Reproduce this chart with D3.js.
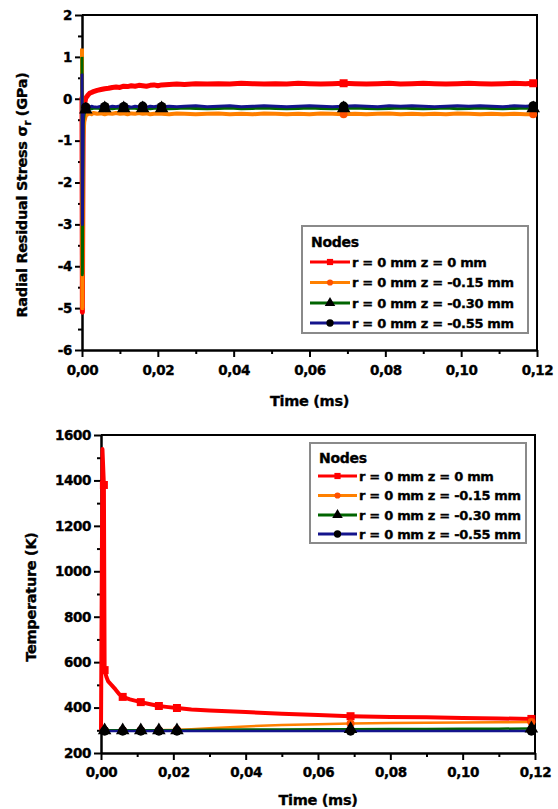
<!DOCTYPE html>
<html><head><meta charset="utf-8">
<script src="https://cdn.jsdelivr.net/npm/d3@7"></script>
<style>
body{margin:0;background:#fff}
svg{display:block}
text{font-family:"DejaVu Sans",sans-serif;font-weight:bold;fill:#000;stroke:#000;stroke-width:0.35px}
</style>
</head><body>
<svg id="c" width="558" height="809"></svg>
<script>
// ---------- shared ----------
const seriesNames = ["r = 0 mm z = 0 mm", "r = 0 mm z = -0.15 mm", "r = 0 mm z = -0.30 mm", "r = 0 mm z = -0.55 mm"];
const seriesColors = ["#ff0000", "#ff8000", "#006400", "#14148c"];
const markerFills = ["#ff0000", "#ff5000", "#000000", "#000000"];
const legendTitle = "Nodes";
const xTickValues = [0, 0.02, 0.04, 0.06, 0.08, 0.10, 0.12];
const xMinorTicks = [0.01, 0.03, 0.05, 0.07, 0.09, 0.11];

// ---------- top chart: radial residual stress (GPa) ----------
const timesTop = [0, 0.0001, 0.0003, 0.0006, 0.001, 0.0015, 0.002, 0.0025, 0.003, 0.004,
  0.005, 0.006, 0.007, 0.008, 0.009, 0.010, 0.011, 0.012, 0.013, 0.014,
  0.015, 0.016, 0.017, 0.018, 0.019, 0.020, 0.021, 0.023, 0.025, 0.027,
  0.030, 0.033, 0.036, 0.039, 0.042, 0.045, 0.048, 0.051, 0.054, 0.057,
  0.060, 0.063, 0.066, 0.069, 0.072, 0.075, 0.078, 0.081, 0.084, 0.087,
  0.090, 0.093, 0.096, 0.099, 0.102, 0.105, 0.108, 0.111, 0.114, 0.117, 0.119];
const stressZ000 = [0.05, -5.1, -0.45, -0.15, 0.02, 0.08, 0.13, 0.15, 0.17, 0.20,
  0.22, 0.24, 0.25, 0.27, 0.28, 0.27, 0.30, 0.29, 0.31, 0.30,
  0.32, 0.31, 0.30, 0.32, 0.33, 0.31, 0.33, 0.34, 0.35, 0.34,
  0.36, 0.35, 0.36, 0.35, 0.37, 0.36, 0.35, 0.36, 0.35, 0.37,
  0.36, 0.35, 0.36, 0.37, 0.36, 0.35, 0.36, 0.37, 0.35, 0.36,
  0.37, 0.36, 0.35, 0.36, 0.37, 0.36, 0.35, 0.36, 0.37, 0.36, 0.37];
const stressZ015 = [1.2, -5.0, -0.95, -0.55, -0.40, -0.37, -0.35, -0.37, -0.34, -0.36,
  -0.35, -0.37, -0.35, -0.36, -0.34, -0.36, -0.35, -0.37, -0.35, -0.36,
  -0.34, -0.36, -0.35, -0.37, -0.36, -0.35, -0.36, -0.37, -0.35, -0.36,
  -0.37, -0.36, -0.35, -0.37, -0.36, -0.37, -0.35, -0.36, -0.37, -0.36,
  -0.37, -0.35, -0.36, -0.37, -0.36, -0.37, -0.36, -0.35, -0.37, -0.36,
  -0.37, -0.36, -0.37, -0.35, -0.36, -0.37, -0.36, -0.37, -0.36, -0.37, -0.37];
const stressZ030 = [1.0, -4.2, -0.6, -0.35, -0.26, -0.24, -0.22, -0.24, -0.23, -0.22,
  -0.24, -0.23, -0.22, -0.24, -0.23, -0.22, -0.23, -0.24, -0.22, -0.23,
  -0.24, -0.23, -0.22, -0.24, -0.23, -0.22, -0.23, -0.24, -0.23, -0.22,
  -0.23, -0.24, -0.23, -0.22, -0.24, -0.23, -0.22, -0.23, -0.24, -0.23,
  -0.22, -0.23, -0.24, -0.23, -0.22, -0.23, -0.24, -0.23, -0.22, -0.23,
  -0.24, -0.23, -0.22, -0.24, -0.23, -0.22, -0.23, -0.24, -0.23, -0.22, -0.23];
const stressZ055 = [0.6, -3.0, -0.4, -0.25, -0.20, -0.19, -0.20, -0.18, -0.19, -0.20,
  -0.18, -0.19, -0.20, -0.18, -0.19, -0.17, -0.19, -0.18, -0.20, -0.18,
  -0.19, -0.18, -0.20, -0.18, -0.19, -0.17, -0.19, -0.18, -0.19, -0.18,
  -0.17, -0.19, -0.18, -0.17, -0.19, -0.18, -0.17, -0.18, -0.19, -0.18,
  -0.17, -0.18, -0.19, -0.18, -0.17, -0.18, -0.19, -0.17, -0.18, -0.17,
  -0.18, -0.19, -0.18, -0.17, -0.18, -0.17, -0.18, -0.19, -0.17, -0.18, -0.17];
const markerTimesTop = [0.001, 0.006, 0.011, 0.016, 0.021, 0.069, 0.119];
const markerTimesTopLate = [0.069, 0.119];
const yTicksTop = [-6, -5, -4, -3, -2, -1, 0, 1, 2];
const yMinorTop = [-5.5, -4.5, -3.5, -2.5, -1.5, -0.5, 0.5, 1.5];

// ---------- bottom chart: temperature (K) ----------
const timesBot = [0, 0.0004, 0.0008, 0.001, 0.0015, 0.002, 0.003, 0.004, 0.005, 0.006,
  0.008, 0.011, 0.013, 0.016, 0.018, 0.021, 0.025, 0.030, 0.040, 0.050,
  0.060, 0.069, 0.080, 0.090, 0.100, 0.110, 0.119];
const tempZ000 = [300, 1538, 1380, 565, 535, 515, 498, 480, 460, 447,
  436, 424, 417, 407, 403, 398, 392, 387, 380, 373,
  367, 362, 359, 357, 354, 352, 350];
const tempZ015 = [300, 300, 300, 300, 300, 300, 300, 300, 300, 300,
  300, 300, 300, 300, 301, 302, 305, 309, 317, 323,
  327, 330, 332, 333, 334, 335, 336];
const tempZ030 = [300, 300, 300, 300, 300, 300, 300, 300, 300, 300,
  300, 300, 300, 300, 300, 300, 301, 302, 303, 304,
  305, 305, 306, 306, 307, 307, 308];
const tempZ055 = [297, 297, 297, 297, 297, 297, 297, 297, 297, 297,
  297, 297, 297, 297, 297, 297, 297, 297, 297, 297,
  297, 297, 297, 297, 297, 297, 297];
const markerTimesBotRed = [0.0008, 0.001, 0.006, 0.011, 0.016, 0.021, 0.069, 0.119];
const markerTimesBot = [0.001, 0.006, 0.011, 0.016, 0.021, 0.069, 0.119];
const yTicksBot = [200, 400, 600, 800, 1000, 1200, 1400, 1600];
const yMinorBot = [300, 500, 700, 900, 1100, 1300, 1500];

const svg = d3.select("#c");
const symbols = [d3.symbolSquare, d3.symbolCircle, d3.symbolTriangle, d3.symbolCircle];
const symSizes = [64, 50, 80, 70];

function drawChart(o) {
  const g = svg.append("g");
  const x = d3.scaleLinear().domain([0, 0.12]).range([o.left, o.right]);
  const y = d3.scaleLinear().domain(o.yDomain).range([o.bottom, o.top]);
  const fmtX = d => d.toFixed(2).replace(".", ",");

  // frame (top, right)
  g.append("path")
    .attr("d", `M${o.left},${o.top}H${o.right}V${o.bottom}`)
    .attr("fill", "none").attr("stroke", "#000").attr("stroke-width", 2);

  // minor ticks
  g.append("g").attr("transform", `translate(0,${o.bottom})`)
    .call(d3.axisBottom(x).tickValues(xMinorTicks).tickSize(4).tickFormat("").tickSizeOuter(0))
    .call(s => s.select(".domain").remove())
    .call(s => s.selectAll("line").attr("stroke-width", 2));
  g.append("g").attr("transform", `translate(${o.left},0)`)
    .call(d3.axisLeft(y).tickValues(o.yMinor).tickSize(4).tickFormat("").tickSizeOuter(0))
    .call(s => s.select(".domain").remove())
    .call(s => s.selectAll("line").attr("stroke-width", 2));

  // major axes
  const xa = g.append("g").attr("transform", `translate(0,${o.bottom})`)
    .call(d3.axisBottom(x).tickValues(xTickValues).tickFormat(fmtX).tickSize(7).tickPadding(o.xPad).tickSizeOuter(0));
  const ya = g.append("g").attr("transform", `translate(${o.left},0)`)
    .call(d3.axisLeft(y).tickValues(o.yTicks).tickFormat(d => String(d)).tickSize(7).tickPadding(3).tickSizeOuter(0));
  [xa, ya].forEach(a => {
    a.select(".domain").attr("stroke-width", 2.5);
    a.selectAll("line").attr("stroke-width", 2);
    a.selectAll("text").style("font-family", '"DejaVu Sans",sans-serif').style("font-weight", "bold")
      .style("font-size", o.tickFont + "px").style("letter-spacing", "-0.4px")
      .attr("fill", "#000").attr("stroke", "#000").attr("stroke-width", 0.35);
  });

  // series lines
  o.series.forEach((vals, i) => {
    const pts = o.times.map((t, k) => [t, vals[k]]);
    g.append("path").datum(pts)
      .attr("fill", "none").attr("stroke", seriesColors[i]).attr("stroke-width", o.lineW[i])
      .attr("stroke-linejoin", "round")
      .attr("d", d3.line().x(d => x(d[0])).y(d => y(d[1])));
  });
  // markers
  o.series.forEach((vals, i) => {
    const mt = o.markerTimes[i];
    const pts = o.times.map((t, k) => [t, vals[k]]).filter(d => mt.includes(d[0]));
    g.selectAll(null).data(pts).enter().append("path")
      .attr("transform", d => `translate(${x(d[0])},${y(d[1])})`)
      .attr("d", d3.symbol().type(symbols[i]).size(symSizes[i]))
      .attr("fill", markerFills[i]);
  });

  // axis titles
  g.append("text").attr("x", (o.left + o.right) / 2).attr("y", o.xTitleY)
    .attr("text-anchor", "middle").attr("dominant-baseline", "central")
    .style("font-size", "14.5px").style("letter-spacing", "-0.3px").text("Time (ms)");
  const yt = g.append("text")
    .attr("transform", `translate(${o.yTitleX},${o.yTitleY}) rotate(-90)`)
    .attr("text-anchor", "middle").attr("dominant-baseline", "central")
    .style("font-size", o.yTitleFont + "px").style("letter-spacing", "-0.3px");
  o.yTitle(yt);

  // legend
  const L = o.legend;
  g.append("rect").attr("x", L.x).attr("y", L.y).attr("width", L.w).attr("height", L.h)
    .attr("fill", "#fff").attr("stroke", "#8a8a8a").attr("stroke-width", 2);
  g.append("text").attr("x", L.x + 9).attr("y", L.titleY).attr("dominant-baseline", "central")
    .style("font-size", "14px").style("letter-spacing", "-0.3px").text(legendTitle);
  seriesNames.forEach((name, i) => {
    const cy = L.rowY[i];
    g.append("line").attr("x1", L.sx0).attr("x2", L.sx1).attr("y1", cy).attr("y2", cy)
      .attr("stroke", seriesColors[i]).attr("stroke-width", 3);
    g.append("path").attr("transform", `translate(${(L.sx0 + L.sx1) / 2},${cy})`)
      .attr("d", d3.symbol().type(symbols[i]).size(symSizes[i] * 0.6)).attr("fill", markerFills[i]);
    g.append("text").attr("x", L.sx1 + 2).attr("y", cy).attr("dominant-baseline", "central")
      .style("font-size", "13px").style("letter-spacing", "-0.3px").text(name);
  });
}

drawChart({
  left: 82, right: 537, top: 15, bottom: 350,
  yDomain: [-6, 2], yTicks: yTicksTop, yMinor: yMinorTop, xPad: 8, tickFont: 13.5,
  times: timesTop, series: [stressZ000, stressZ015, stressZ030, stressZ055],
  lineW: [5, 4, 3, 3],
  markerTimes: [markerTimesTopLate, markerTimesTopLate, markerTimesTop, markerTimesTop],
  xTitleY: 401, yTitleX: 22, yTitleY: 195, yTitleFont: 14.5,
  yTitle: t => {
    t.append("tspan").text("Radial Residual Stress σ");
    t.append("tspan").attr("baseline-shift", "sub").style("font-size", "10px").text("r");
    t.append("tspan").text(" (GPa)");
  },
  legend: { x: 302, y: 226, w: 226, h: 107, titleY: 242, rowY: [262, 282.5, 303, 323], sx0: 310, sx1: 350 }
});

drawChart({
  left: 101, right: 535, top: 435, bottom: 753,
  yDomain: [200, 1600], yTicks: yTicksBot, yMinor: yMinorBot, xPad: 7, tickFont: 13.5,
  times: timesBot, series: [tempZ000, tempZ015, tempZ030, tempZ055],
  lineW: [4, 2.5, 2.5, 2.5],
  markerTimes: [markerTimesBotRed, markerTimesBot, markerTimesBot, markerTimesBot],
  xTitleY: 800, yTitleX: 31, yTitleY: 597, yTitleFont: 14.5,
  yTitle: t => t.text("Temperature (K)"),
  legend: { x: 310, y: 443, w: 216, h: 100, titleY: 458, rowY: [476, 495.5, 515, 534], sx0: 318, sx1: 357 }
});
</script>
</body></html>
